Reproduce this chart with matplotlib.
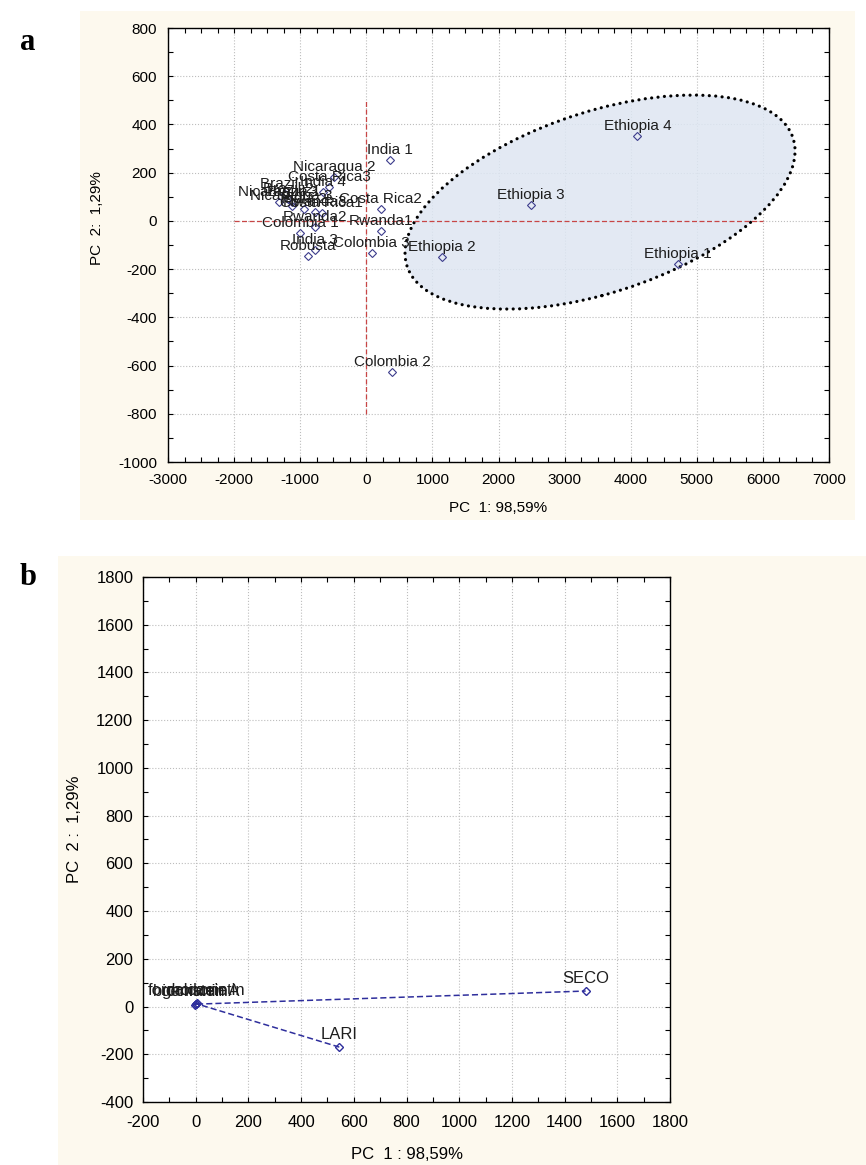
import matplotlib
matplotlib.use("Agg")
import matplotlib.pyplot as plt
from matplotlib.patches import Ellipse, Rectangle
from matplotlib.ticker import MultipleLocator

plt.rcParams['font.family'] = ['Liberation Sans', 'DejaVu Sans']
plt.rcParams['axes.unicode_minus'] = False

# ---- panel a: sample scores (PC1, PC2) ----
samples = ['Ethiopia 1', 'Ethiopia 2', 'Ethiopia 3', 'Ethiopia 4',
           'India 1', 'India 2', 'India 3', 'India 4',
           'Nicaragua 1', 'Nicaragua 2', 'Nicaragua 3',
           'Costa Rica1', 'Costa Rica2', 'Costa Rica3',
           'Rwanda1', 'Rwanda2', 'Rwanda3',
           'Brazil 1', 'Brazil 2', 'Brazil 3',
           'Colombia 1', 'Colombia 2', 'Colombia 3', 'Robusta']
score_pc1 = [4720, 1140, 2490, 4100,
             360, -950, -776, -650,
             -1316, -490, -1130,
             -675, 218, -565,
             218, -776, -776,
             -1230, -1180, -1120,
             -1003, 393, 82, -877]
score_pc2 = [-180, -150, 65, 352,
             253, 48, -121, 121,
             78, 183, 62,
             31, 48, 140,
             -42, -27, 37,
             110, 92, 78,
             -52, -625, -132, -146]

# ---- panel b: variable loadings (PC1, PC2) ----
variables = ['LARI', 'formononetin', 'genistein', 'daidzein', 'biochanin A', 'SECO']
load_pc1 = [545, 2, -3, 4, 1, 1480]
load_pc2 = [-170, 12, 8, 14, 10, 65]

# reference cross and group ellipse drawn on panel a
cross_x = [-2000, 6000]
cross_y = [-800, 500]
ell_center = (3536, 78)
ell_width, ell_height, ell_angle = 5916, 778, 4.18

BEIGE = '#FDF9EE'
GRID = '#BDBDBD'

fig = plt.figure(figsize=(8.66, 11.65), dpi=100)

# beige panel backgrounds
fig.add_artist(Rectangle((0.0924, 0.5536), 0.8949, 0.4369, transform=fig.transFigure,
                         facecolor=BEIGE, edgecolor='none', zorder=-5))
fig.add_artist(Rectangle((0.0670, 0.0), 0.9330, 0.5228, transform=fig.transFigure,
                         facecolor=BEIGE, edgecolor='none', zorder=-5))


def style_axes(ax, fs, xpad, ypad):
    ax.set_facecolor('white')
    ax.grid(True, which='major', linestyle=':', color=GRID, lw=0.8)
    ax.set_axisbelow(True)
    ax.tick_params(which='both', direction='in', top=True, right=True,
                   length=3.5, width=0.8, labelsize=fs, colors='black')
    ax.tick_params(axis='x', pad=xpad)
    ax.tick_params(axis='y', pad=ypad)
    for s in ax.spines.values():
        s.set_linewidth(1.0)
        s.set_color('black')


# ---------------- panel a ----------------
ax = fig.add_axes([0.19400, 0.60343, 0.76328, 0.37253])
ax.set_xlim(-3000, 7000)
ax.set_ylim(-1000, 800)
ax.xaxis.set_major_locator(MultipleLocator(1000))
ax.xaxis.set_minor_locator(MultipleLocator(250))
ax.yaxis.set_major_locator(MultipleLocator(200))
ax.yaxis.set_minor_locator(MultipleLocator(100))
style_axes(ax, 11, 8, 8)

ell = Ellipse(ell_center, ell_width, ell_height, angle=ell_angle,
              facecolor=(0.87, 0.90, 0.95, 0.85), edgecolor='black',
              lw=2.3, linestyle=(0, (0.01, 2.0)), zorder=1.5)
ell.set_capstyle('round')
ax.add_patch(ell)

ax.plot([0, 0], cross_y, color='#C84646', lw=0.9, ls=(0, (4, 2)), zorder=3)
ax.plot(cross_x, [0, 0], color='#C84646', lw=0.9, ls=(0, (4, 2)), zorder=3)

ax.plot(score_pc1, score_pc2, ls='none', marker='D', ms=3.6, mfc='none',
        mec='#3C3C8C', mew=0.8, zorder=4)
for name, x, y in zip(samples, score_pc1, score_pc2):
    ax.annotate(name, (x, y), xytext=(0, 4.3), textcoords='offset points',
                ha='center', va='baseline', fontsize=11, color='#1E1E1E', zorder=5)

ax.set_xlabel('PC  1: 98,59%', fontsize=11)
ax.set_ylabel('PC  2:  1,29%', fontsize=11)
ax.xaxis.set_label_coords(0.5, -0.090)
ax.yaxis.set_label_coords(-0.097, 0.562)

# ---------------- panel b ----------------
bx = fig.add_axes([0.16513, 0.05408, 0.60855, 0.45064])
bx.set_xlim(-200, 1800)
bx.set_ylim(-400, 1800)
bx.xaxis.set_major_locator(MultipleLocator(200))
bx.xaxis.set_minor_locator(MultipleLocator(100))
bx.yaxis.set_major_locator(MultipleLocator(200))
bx.yaxis.set_minor_locator(MultipleLocator(100))
style_axes(bx, 12, 9.5, 7)

bx.plot(load_pc1, load_pc2, ls=(0, (4, 2)), lw=1.1, color='#2E2E9C',
        marker='D', ms=4, mfc='none', mec='#2E2E9C', mew=1.0, zorder=4)
for name, x, y in zip(variables, load_pc1, load_pc2):
    bx.annotate(name, (x, y), xytext=(0, 6), textcoords='offset points',
                ha='center', va='baseline', fontsize=12, color='#1E1E1E', zorder=5)

bx.set_xlabel('PC  1 : 98,59%', fontsize=12)
bx.set_ylabel('PC  2 :  1,29%', fontsize=12)
bx.xaxis.set_label_coords(0.5, -0.086)
bx.yaxis.set_label_coords(-0.116, 0.52)

# panel letters
fig.text(28 / 866, 1 - 42 / 1165, 'a', fontsize=22, fontweight='bold',
         family='Liberation Serif', ha='center', va='center')
fig.text(28 / 866, 1 - 578 / 1165, 'b', fontsize=22, fontweight='bold',
         family='Liberation Serif', ha='center', va='center')

fig.savefig('out.png', dpi=100, facecolor='white')
